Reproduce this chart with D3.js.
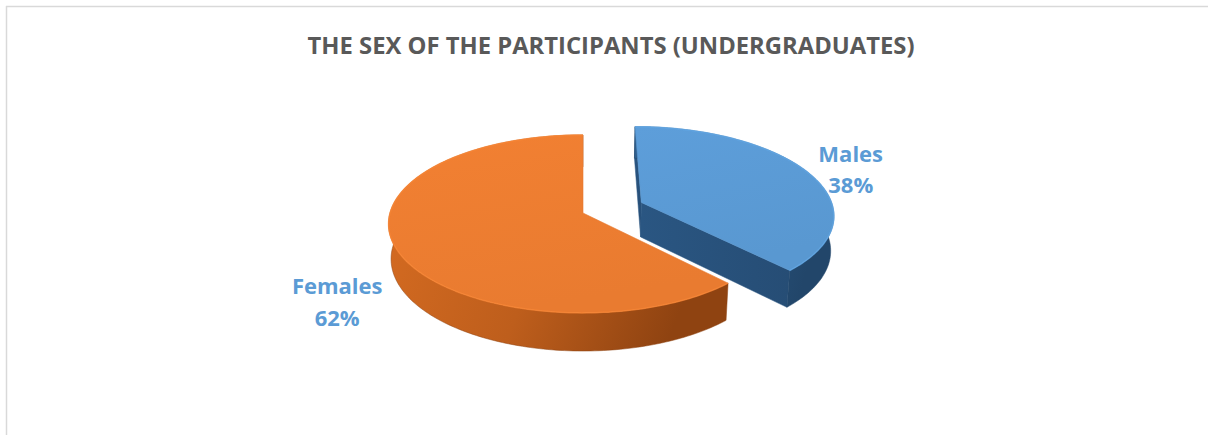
<!DOCTYPE html>
<html>
<head>
<meta charset="utf-8">
<script src="https://cdn.jsdelivr.net/npm/d3@7"></script>
<style>
  html, body { margin: 0; padding: 0; background: #ffffff; }
  svg { display: block; }
  text { font-family: "Open Sans", "Noto Sans", sans-serif; font-weight: 700; }
</style>
</head>
<body>
<svg id="chart" width="1208" height="435"></svg>
<script>
// ---- data ----
const categories = ["Males", "Females"];
const values = [38, 62];
const percentLabels = ["38%", "62%"];
const chartTitle = "THE SEX OF THE PARTICIPANTS (UNDERGRADUATES)";

// ---- appearance ----
const W = 1208, H = 435;
const topColors   = ["#5b9bd5", "#ed7d31"];
const sideColors  = [["#2f5f8d", "#22466a"], ["#d86d22", "#8f4311"]];
const faceColors  = ["#2a5682", "#b85a18"];
const labelColor  = "#5b9bd5";
const explode     = [0.33, 0];      // radial pull-out of each slice (in radii)
const labelRadius = 1.29;
const labelDy     = [0, 40];

// 3D view: tilted disk with a perspective camera
const view = {
  cx: 583, cy: 213,         // screen position of the pie centre (top face)
  focal: 1399,
  dist: 7.25,
  tilt: 27 * Math.PI / 180,
  depth: 0.205               // thickness of the pie, in radii
};

const svg = d3.select("#chart");

// frame
svg.append("line").attr("x1", 6).attr("x2", W).attr("y1", 6.5).attr("y2", 6.5)
  .attr("stroke", "#d9d9d9").attr("stroke-width", 1.5);
svg.append("line").attr("x1", 6.5).attr("x2", 6.5).attr("y1", 6).attr("y2", H)
  .attr("stroke", "#d9d9d9").attr("stroke-width", 1.5);

// title
svg.append("text")
  .attr("x", 611).attr("y", 54)
  .attr("text-anchor", "middle")
  .attr("fill", "#595959")
  .attr("font-size", 23.8)
  .text(chartTitle);

// projection of a point (x right, y up, z away from the viewer) onto the screen
const sx = d3.scaleLinear().domain([0, 1]).range([view.cx, view.cx + view.focal]);
const sy = d3.scaleLinear().domain([0, 1]).range([view.cy, view.cy - view.focal]);
function project(x, y, z) {
  const c = Math.cos(view.tilt), s = Math.sin(view.tilt);
  const yc = y * c + z * s;
  const zc = view.dist + z * c - y * s;
  return [sx(x / zc), sy(yc / zc)];
}

const pie = d3.pie().sort(null).value(d => d)(values);
const line = d3.line().curve(d3.curveLinearClosed);

// slice geometry in world space
function rimPoint(a, ox, oz, y) { return project(ox + Math.sin(a), y, oz + Math.cos(a)); }
function arcPoints(a0, a1, ox, oz, y) {
  const n = Math.max(2, Math.ceil((a1 - a0) / 0.02));
  return d3.range(n + 1).map(i => rimPoint(a0 + (a1 - a0) * i / n, ox, oz, y));
}
function signedArea(pts) {
  let s = 0;
  for (let i = 0; i < pts.length; i++) {
    const [x1, y1] = pts[i], [x2, y2] = pts[(i + 1) % pts.length];
    s += x1 * y2 - x2 * y1;
  }
  return s / 2;
}

const defs = svg.append("defs");
pie.forEach((p, i) => {
  const g = defs.append("linearGradient").attr("id", "side" + i)
    .attr("x1", 0).attr("x2", 1).attr("y1", 0).attr("y2", 0.25);
  g.append("stop").attr("offset", 0).attr("stop-color", sideColors[i][0]);
  g.append("stop").attr("offset", 0.55).attr("stop-color", d3.interpolateRgb(sideColors[i][0], sideColors[i][1])(0.35));
  g.append("stop").attr("offset", 1).attr("stop-color", sideColors[i][1]);
  const t = defs.append("linearGradient").attr("id", "top" + i)
    .attr("x1", 0).attr("x2", 0.3).attr("y1", 0).attr("y2", 1);
  t.append("stop").attr("offset", 0).attr("stop-color", d3.color(topColors[i]).brighter(0.06));
  t.append("stop").attr("offset", 1).attr("stop-color", d3.color(topColors[i]).darker(0.05));
  const f = defs.append("linearGradient").attr("id", "face" + i)
    .attr("x1", 0).attr("x2", 1).attr("y1", 0).attr("y2", 0);
  f.append("stop").attr("offset", 0).attr("stop-color", faceColors[i]);
  f.append("stop").attr("offset", 1).attr("stop-color", d3.color(faceColors[i]).darker(0.3));
});

// back-to-front: the pulled-out slice on the right sits behind the large one
const order = d3.range(pie.length).sort((a, b) => explode[b] - explode[a]);
const layer = svg.append("g");

order.forEach(i => {
  const p = pie[i];
  const mid = (p.startAngle + p.endAngle) / 2;
  const ox = explode[i] * Math.sin(mid), oz = explode[i] * Math.cos(mid);
  const h = -view.depth;
  const g = layer.append("g").attr("class", "slice slice-" + categories[i]);

  const apexTop = project(ox, 0, oz), apexBot = project(ox, h, oz);

  // radial cut faces (only those facing the camera)
  [[p.startAngle, 1], [p.endAngle, -1]].forEach(([a, dir]) => {
    const pts = [apexTop, rimPoint(a, ox, oz, 0), rimPoint(a, ox, oz, h), apexBot];
    if (signedArea(pts) * dir < 0) {
      g.append("path").attr("d", line(pts)).attr("fill", "url(#face" + i + ")")
        .attr("stroke", faceColors[i]).attr("stroke-width", 0.5);
    }
  });

  // outer wall
  const topRim = arcPoints(p.startAngle, p.endAngle, ox, oz, 0);
  const botRim = arcPoints(p.startAngle, p.endAngle, ox, oz, h).reverse();
  g.append("path").attr("d", line(topRim.concat(botRim)))
    .attr("fill", "url(#side" + i + ")")
    .attr("stroke", sideColors[i][1]).attr("stroke-width", 0.5);

  // top face
  g.append("path").attr("d", line([apexTop].concat(topRim)))
    .attr("fill", "url(#top" + i + ")")
    .attr("stroke", d3.color(topColors[i]).darker(0.1)).attr("stroke-width", 0.6);

  // soft highlight along the rim edge
  g.append("path").attr("d", d3.line()(topRim))
    .attr("fill", "none")
    .attr("stroke", d3.color(topColors[i]).brighter(0.3))
    .attr("stroke-width", 1.5).attr("stroke-opacity", 0.6);
});

// data labels
pie.forEach((p, i) => {
  const mid = (p.startAngle + p.endAngle) / 2;
  const ox = explode[i] * Math.sin(mid), oz = explode[i] * Math.cos(mid);
  const [lx, ly] = project(ox + (labelRadius - explode[i] * 0.06) * Math.sin(mid), 0,
                           oz + (labelRadius - explode[i] * 0.06) * Math.cos(mid));
  const t = svg.append("text")
    .attr("x", lx).attr("y", ly + labelDy[i])
    .attr("text-anchor", "middle")
    .attr("fill", labelColor)
    .attr("font-size", 22);
  t.append("tspan").attr("x", lx).attr("dy", "-0.15em").text(categories[i]);
  t.append("tspan").attr("x", lx).attr("dy", "1.45em").text(percentLabels[i]);
});
</script>
</body>
</html>
